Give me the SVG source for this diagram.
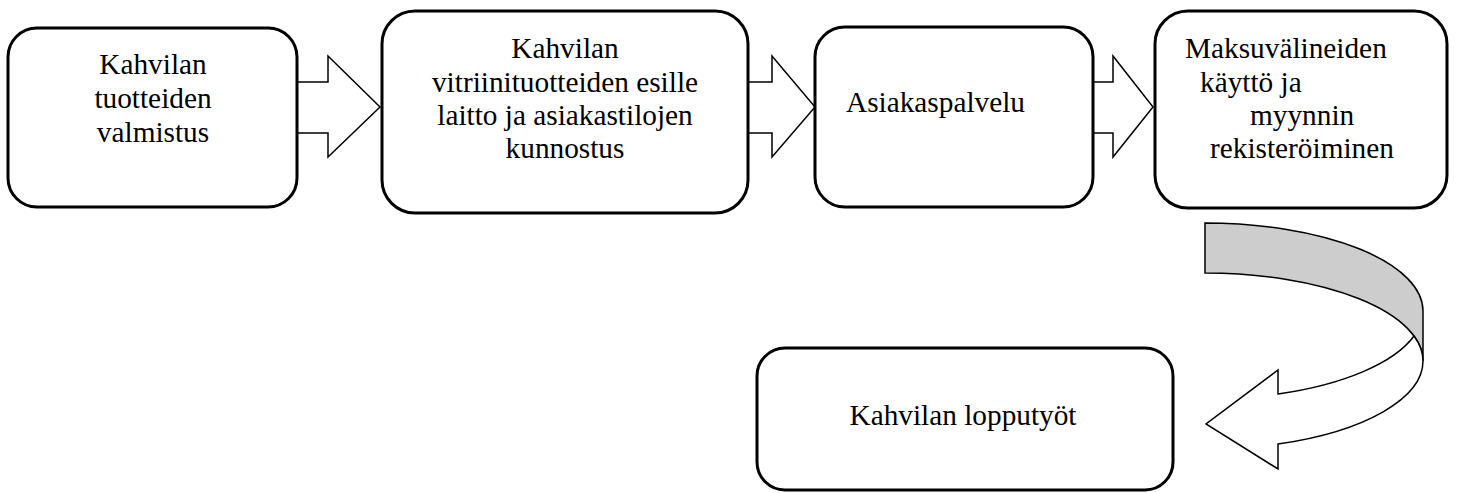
<svg xmlns="http://www.w3.org/2000/svg" width="1458" height="493" viewBox="0 0 1458 493">
  <style>
    .box { fill: #ffffff; stroke: #000000; stroke-width: 3; }
    .arr { fill: #ffffff; stroke: #000000; stroke-width: 1.5; stroke-linejoin: miter; }
    .back { fill: #cdcdcd; stroke: #000000; stroke-width: 1.5; }
    .t { font-family: 'Liberation Serif', 'DejaVu Serif', 'Times New Roman', serif; font-size: 29.3px; fill: #000000; }
    .c { text-anchor: middle; }
  </style>
  <rect width="1458" height="493" fill="#ffffff"/>
  <g id="connectors">
    <polygon class="arr" points="297,82 328,82 328,56 380,107 328,157 328,133 297,133"/>
    <polygon class="arr" points="748,82 772,82 772,56 815,107 772,157 772,133 748,133"/>
    <polygon class="arr" points="1093,82 1113,82 1113,56 1153,107 1113,157 1113,133 1093,133"/>
    <g id="curved-arrow">
      <path class="back" d="M1205,223 A218,88 0 0 1 1423,311 L1423,361 A218,88 0 0 0 1205,273 Z"/>
      <path class="arr" d="M1414,336 A218,88 0 0 1 1278,394 L1278,370 L1206,424 L1278,469 L1278,444 A218,88 0 0 0 1423,361 A218,88 0 0 0 1414,336 Z"/>
    </g>
  </g>
  <g id="node1">
    <rect class="box" x="8" y="28" width="289" height="179" rx="29" ry="29"/>
    <text class="t c" font-family="Liberation Serif, serif" x="153" y="74">Kahvilan</text>
    <text class="t c" font-family="Liberation Serif, serif" x="153" y="108">tuotteiden</text>
    <text class="t c" font-family="Liberation Serif, serif" x="153" y="142">valmistus</text>
  </g>
  <g id="node2">
    <rect class="box" x="382" y="11" width="366" height="202" rx="33" ry="33"/>
    <text class="t c" x="565" y="58">Kahvilan</text>
    <text class="t c" x="565" y="92">vitriinituotteiden esille</text>
    <text class="t c" x="565" y="125">laitto ja asiakastilojen</text>
    <text class="t c" x="565" y="158">kunnostus</text>
  </g>
  <g id="node3">
    <rect class="box" x="815" y="27" width="278" height="180" rx="30" ry="30"/>
    <text class="t" x="846" y="112">Asiakaspalvelu</text>
  </g>
  <g id="node4">
    <rect class="box" x="1155" y="11" width="292" height="197" rx="33" ry="33"/>
    <text class="t" x="1185" y="58">Maksuvälineiden</text>
    <text class="t" x="1200" y="92">käyttö ja</text>
    <text class="t" x="1250" y="125">myynnin</text>
    <text class="t" x="1210" y="158">rekisteröiminen</text>
  </g>
  <g id="node5">
    <rect class="box" x="757" y="348" width="416" height="142" rx="28" ry="28"/>
    <text class="t c" x="963" y="425">Kahvilan lopputyöt</text>
  </g>
</svg>
